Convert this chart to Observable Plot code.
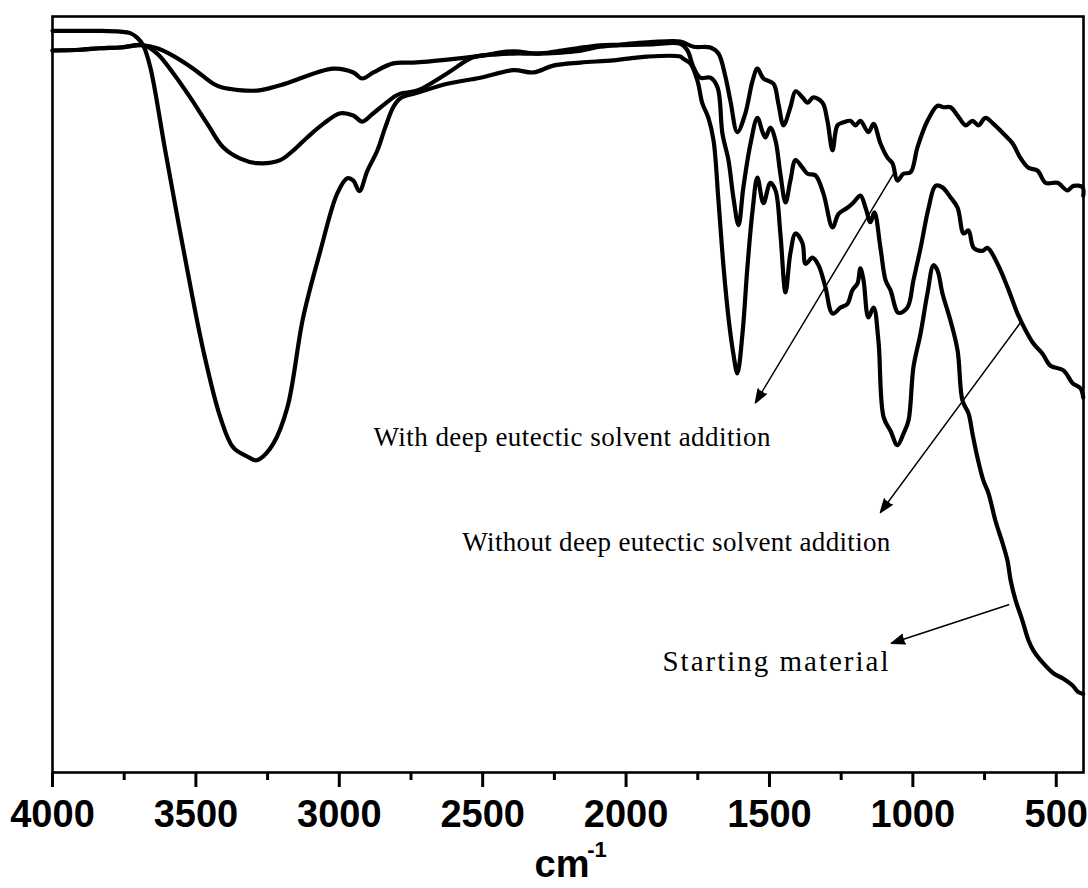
<!DOCTYPE html>
<html>
<head>
<meta charset="utf-8">
<script src="https://cdn.jsdelivr.net/npm/d3@7"></script>
<script src="https://cdn.jsdelivr.net/npm/@observablehq/plot@0.6"></script>
<style>
  html, body { margin: 0; padding: 0; background: #fff; }
  #chart { width: 1088px; height: 888px; }
</style>
</head>
<body>
<div id="chart"></div>
<script>
// ---- Data (wavenumber cm-1, transmittance a.u.) ----
const withDES = [
  [4000,95.5],[3903,95.6],[3834,95.8],[3764,95.9],[3684,96.2],[3635,95.8],[3579,94.8],[3509,93.1],
  [3439,91.1],[3408,90.6],[3286,90.2],[3206,90.9],[3021,93.1],[2951,92.6],[2920,91.8],[2881,92.6],
  [2812,93.8],[2742,93.9],[2623,94.3],[2508,94.8],[2393,95.4],[2309,95.1],[2240,95.4],[2170,95.8],
  [2090,96.2],[2020,96.3],[1915,96.6],[1811,96.7],[1765,96.0],[1706,95.9],[1678,95.1],[1654,92.1],
  [1636,88.8],[1612,84.7],[1584,87.2],[1559,91.5],[1542,93.1],[1521,91.8],[1486,91.1],[1469,88.5],
  [1451,85.6],[1427,88.0],[1409,90.1],[1385,89.3],[1367,88.6],[1347,89.3],[1315,88.6],[1298,86.2],
  [1280,82.3],[1263,85.6],[1242,86.0],[1218,86.2],[1200,85.6],[1183,86.2],[1155,84.7],[1137,85.8],
  [1113,83.2],[1088,81.3],[1071,80.6],[1054,78.3],[1033,79.2],[1008,79.4],[984,82.7],[949,86.2],
  [914,88.2],[893,88.0],[869,88.0],[844,86.9],[816,85.6],[792,86.2],[771,85.6],[747,86.6],
  [719,85.8],[684,84.5],[652,83.2],[625,81.3],[597,80.0],[565,79.6],[537,78.0],[496,78.0],
  [461,77.0],[440,77.6],[408,77.4],[406,76.3]
];
const withoutDES = [
  [4000,95.5],[3903,95.6],[3834,95.8],[3764,95.9],[3684,96.2],[3635,95.1],[3579,92.5],[3520,89.3],
  [3460,85.8],[3405,82.7],[3345,81.2],[3286,80.6],[3206,81.0],[3160,82.3],[3112,84.0],[3056,85.8],
  [2996,87.2],[2951,86.9],[2920,86.1],[2881,87.2],[2812,89.3],[2787,89.8],[2728,90.2],[2623,92.5],
  [2533,94.6],[2449,95.0],[2393,95.1],[2309,95.1],[2240,95.2],[2170,95.4],[2090,96.0],[2020,96.2],
  [1915,96.3],[1811,96.4],[1786,95.5],[1765,93.3],[1741,91.9],[1706,91.9],[1681,90.6],[1664,84.5],
  [1643,81.0],[1626,76.1],[1608,72.4],[1591,77.4],[1566,83.2],[1542,86.6],[1524,84.7],[1514,84.0],
  [1497,85.3],[1479,83.6],[1462,79.2],[1444,75.4],[1427,78.3],[1409,81.0],[1385,80.0],[1367,79.2],
  [1340,79.0],[1312,76.6],[1280,72.1],[1259,73.9],[1228,74.7],[1207,75.4],[1183,76.3],[1165,74.7],
  [1148,72.8],[1134,74.1],[1113,69.4],[1095,65.1],[1078,63.8],[1050,60.8],[1019,61.5],[998,65.1],
  [973,69.4],[945,74.7],[921,77.6],[897,77.4],[869,76.1],[844,74.7],[823,71.3],[806,71.7],
  [788,69.4],[757,69.0],[740,69.4],[705,67.3],[670,64.2],[635,60.7],[607,58.5],[579,56.7],
  [548,55.4],[520,53.8],[475,53.2],[443,51.5],[415,50.8],[406,49.6]
];
const startingMaterial = [
  [4000,98.1],[3903,98.1],[3834,98.1],[3764,98.0],[3729,97.8],[3705,97.2],[3684,96.2],[3659,93.3],
  [3607,82.3],[3544,69.3],[3474,55.8],[3415,47.0],[3370,43.0],[3321,41.8],[3293,41.3],[3276,41.5],
  [3230,43.5],[3181,48.3],[3126,60.2],[3066,69.0],[3007,76.6],[2972,78.6],[2951,78.3],[2930,76.9],
  [2902,79.6],[2867,82.3],[2840,85.3],[2812,88.0],[2787,89.2],[2728,89.9],[2623,91.1],[2508,91.9],
  [2393,92.9],[2323,92.6],[2254,93.5],[2159,93.9],[2044,94.2],[1926,94.7],[1811,94.7],[1800,94.4],
  [1776,93.8],[1751,91.5],[1734,88.5],[1713,86.6],[1695,83.6],[1678,75.7],[1660,66.8],[1643,60.2],
  [1626,55.4],[1612,52.8],[1594,58.1],[1577,66.8],[1559,74.3],[1542,78.7],[1521,75.3],[1497,78.0],
  [1479,77.0],[1462,71.3],[1444,63.5],[1427,68.7],[1409,71.3],[1385,70.0],[1374,67.3],[1350,68.1],
  [1329,67.1],[1305,64.2],[1280,60.7],[1252,61.5],[1228,62.0],[1211,63.8],[1193,64.7],[1183,66.7],
  [1172,65.1],[1155,60.2],[1137,61.5],[1120,57.1],[1102,47.0],[1078,45.2],[1054,43.3],[1033,44.8],
  [1015,46.6],[998,53.6],[973,58.1],[949,63.4],[928,67.1],[914,66.4],[897,63.4],[869,59.8],
  [844,55.8],[827,49.2],[806,47.5],[792,44.8],[775,41.7],[754,38.6],[736,36.9],[712,33.3],
  [687,30.3],[670,28.0],[659,25.4],[642,22.8],[618,20.1],[597,17.5],[579,16.1],[544,14.4],
  [509,13.1],[475,12.4],[443,11.5],[422,10.6],[406,10.4]
];

const seriesNames = ["With deep eutectic solvent addition", "Without deep eutectic solvent addition", "Starting material"];
const xMajorTicks = [4000, 3500, 3000, 2500, 2000, 1500, 1000, 500];
const xMinorTicks = [3750, 3250, 2750, 2250, 1750, 1250, 750];
const xDomain = [4000, 405];
const yDomain = [0, 100];

const labelTexts = ["With deep eutectic solvent addition", "Without deep eutectic solvent addition", "Starting material"];
const labelW = [2881, 2571, 1873];
const labelT = [44.3, 30.4, 14.7];

const arrowW1 = [1061, 625, 666];
const arrowT1 = [79.6, 59.5, 22.2];
const arrowW2 = [1549, 1113, 1075];
const arrowT2 = [48.9, 34.4, 17.1];

// ---- Build tables ----
const spectra = [withDES, withoutDES, startingMaterial].flatMap((s, i) =>
  s.map(([w, t]) => ({series: seriesNames[i], w, t})));
const labels = labelTexts.map((text, i) => ({text, w: labelW[i], t: labelT[i]}));
const arrows = arrowW1.map((w1, i) => ({w1, t1: arrowT1[i], w2: arrowW2[i], t2: arrowT2[i]}));

// styling: fitted label widths
const labelFit = {
  "With deep eutectic solvent addition": {size: 27, len: 397},
  "Without deep eutectic solvent addition": {size: 27, len: 428},
  "Starting material": {size: 29, len: 226}
};

const chart = Plot.plot({
  width: 1088,
  height: 888,
  marginLeft: 52,
  marginRight: 5,
  marginTop: 16,
  marginBottom: 116,
  style: {fontFamily: "'Liberation Sans', Arial, sans-serif", background: "white", color: "black"},
  x: {domain: xDomain, axis: null},
  y: {domain: yDomain, axis: null},
  marks: [
    Plot.line(spectra, {x: "w", y: "t", z: "series", stroke: "black", strokeWidth: 4.2,
      curve: "catmull-rom", strokeLinejoin: "round", strokeLinecap: "round"}),
    Plot.arrow(arrows, {x1: "w1", y1: "t1", x2: "w2", y2: "t2", stroke: "black", fill: "black",
      strokeWidth: 1.5, headLength: 14, headAngle: 40, strokeLinejoin: "miter"}),
    Plot.text(labels, {x: "w", y: "t", text: "text", textAnchor: "start", lineAnchor: "middle",
      fontFamily: "'Liberation Serif', 'Times New Roman', serif", fontSize: 27, fill: "black"}),
    Plot.axisX({ticks: xMinorTicks, tickSize: 8, strokeWidth: 3, tickFormat: () => ""}),
    Plot.axisX({ticks: xMajorTicks, tickSize: 15, tickPadding: 13, strokeWidth: 3,
      tickFormat: d => String(d), fontSize: 38, fontWeight: "bold"}),
    Plot.frame({stroke: "black", strokeWidth: 2.6}),
    Plot.text(["cm"], {frameAnchor: "bottom", dx: -6, dy: 104, lineAnchor: "bottom",
      fontSize: 38, fontWeight: "bold", fill: "black"}),
    Plot.text(["-1"], {frameAnchor: "bottom", dx: 29, dy: 84, lineAnchor: "bottom",
      fontSize: 22, fontWeight: "bold", fill: "black"})
  ]
});

chart.querySelectorAll('g[aria-label="text"] text').forEach(t => {
  const f = labelFit[t.textContent];
  if (f) {
    t.setAttribute("font-size", f.size);
    t.setAttribute("textLength", f.len);
    t.setAttribute("lengthAdjust", "spacing");
  }
});

document.getElementById("chart").appendChild(chart);
</script>
</body>
</html>
